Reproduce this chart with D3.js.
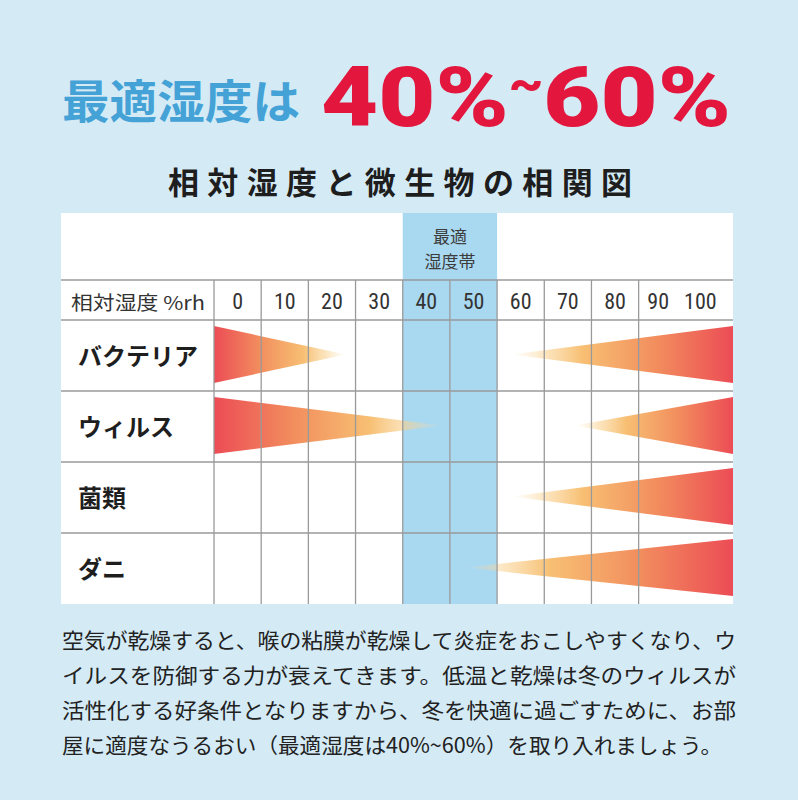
<!DOCTYPE html>
<html>
<head>
<meta charset="utf-8">
<script src="https://cdn.jsdelivr.net/npm/d3@7"></script>
<style>
  body { margin: 0; background: #d4ebf6; }
  svg { display: block; }
</style>
</head>
<body>
<script>
// データ
const humidityTicks = [0, 10, 20, 30, 40, 50, 60, 70, 80, 90, 100]
const organisms = ['バクテリア', 'ウィルス', '菌類', 'ダニ']
// 乾燥側のくさびが届く湿度 (null = なし)
const lowReach = [28, 48.5, null, null]
// 多湿側のくさびが始まる湿度
const highReach = [63, 76.5, 63, 53]
const optimalBand = [40, 60]
const noteLines = [
  '空気が乾燥すると、喉の粘膜が乾燥して炎症をおこしやすくなり、ウ',
  'イルスを防御する力が衰えてきます。低温と乾燥は冬のウィルスが',
  '活性化する好条件となりますから、冬を快適に過ごすために、お部',
  '屋に適度なうるおい（最適湿度は40%~60%）を取り入れましょう。'
]

const W = 798, H = 800
const jp = '"Noto Sans CJK JP", "Noto Sans", sans-serif'

let svg = d3.select('body')
    .append('svg')
    .attr('width', W)
    .attr('height', H)

svg.append('rect')
    .attr('width', W)
    .attr('height', H)
    .attr('fill', '#d4ebf6')

// タイトル
svg.append('text')
    .text('最適湿度は')
    .attr('x', 62)
    .attr('y', 118)
    .attr('font-family', jp)
    .attr('font-weight', 700)
    .attr('font-size', 46)
    .attr('textLength', 238)
    .attr('lengthAdjust', 'spacingAndGlyphs')
    .attr('fill', '#45a2d6')

let big = svg.append('text')
    .attr('x', 321)
    .attr('y', 126)
    .attr('font-family', 'Roboto, "Liberation Sans", sans-serif')
    .attr('font-weight', 900)
    .attr('font-size', 83)
    .attr('textLength', 410)
    .attr('lengthAdjust', 'spacingAndGlyphs')
    .attr('fill', '#e3173e')
big.append('tspan').text('40%')
big.append('tspan').text('~').attr('font-size', 46).attr('dy', -27)
big.append('tspan').text('60%').attr('dy', 27)

svg.append('text')
    .text('相対湿度と微生物の相関図')
    .attr('x', 168)
    .attr('y', 194)
    .attr('font-family', jp)
    .attr('font-weight', 700)
    .attr('font-size', 31)
    .attr('textLength', 464)
    .attr('lengthAdjust', 'spacing')
    .attr('fill', '#1e1e1e')

// 表の枠
const tableLeft = 61, tableRight = 733, tableTop = 213
const headerLine = 280, rowsTop = 320, tableBottom = 604
const gridLeft = 214

let x = d3.scaleLinear()
    .domain([0, 110])
    .range([gridLeft, tableRight])

let xBand = d3.scaleBand()
    .domain(humidityTicks)
    .range([gridLeft, tableRight])

let y = d3.scaleBand()
    .domain(organisms)
    .range([rowsTop, tableBottom])

let table = svg.append('g')

table.append('rect')
    .attr('x', tableLeft)
    .attr('y', tableTop)
    .attr('width', tableRight - tableLeft)
    .attr('height', tableBottom - tableTop)
    .attr('fill', '#ffffff')

table.append('rect')
    .attr('x', x(optimalBand[0]))
    .attr('y', tableTop)
    .attr('width', x(optimalBand[1]) - x(optimalBand[0]))
    .attr('height', tableBottom - tableTop)
    .attr('fill', '#a9d8f1')

// くさびのグラデーション
let defs = svg.append('defs')

function wedge(i, from, to, name) {
    let d = organisms[i]
    let top = y(d) + 6
    let bot = y(d) + y.bandwidth() - 8
    let mid = (top + bot) / 2
    let grad = defs.append('linearGradient')
        .attr('id', name)
        .attr('gradientUnits', 'userSpaceOnUse')
        .attr('x1', x(from)).attr('y1', 0)
        .attr('x2', x(to)).attr('y2', 0)
    let stops = [
        [0, '#ec4c55', 1],
        [0.35, '#f28e5e', 1],
        [0.68, '#f7bc6c', 0.95],
        [0.85, '#f9d08c', 0.55],
        [1, '#fbe0b0', 0]
    ]
    grad.selectAll('stop')
        .data(stops)
        .enter()
        .append('stop')
        .attr('offset', s => s[0])
        .attr('stop-color', s => s[1])
        .attr('stop-opacity', s => s[2])
    table.append('path')
        .attr('d', d3.line()([[x(from), top], [x(to), mid], [x(from), bot]]) + 'Z')
        .attr('fill', 'url(#' + name + ')')
}

organisms.forEach((d, i) => {
    if (lowReach[i] != null) wedge(i, 0, lowReach[i], 'low' + i)
    if (highReach[i] != null) wedge(i, 110, highReach[i], 'high' + i)
})

// 罫線
let hLines = [headerLine, rowsTop].concat(organisms.slice(1).map(d => y(d)))
table.selectAll('.hline')
    .data(hLines)
    .enter()
    .append('line')
    .attr('x1', tableLeft)
    .attr('x2', tableRight)
    .attr('y1', d => d)
    .attr('y2', d => d)
    .attr('stroke', '#9a9a9a')
    .attr('stroke-width', 1.3)

// 90 と 100 の間には線がない
let vTicks = humidityTicks.filter(v => v !== 100)
table.selectAll('.vline')
    .data(vTicks)
    .enter()
    .append('line')
    .attr('x1', d => x(d))
    .attr('x2', d => x(d))
    .attr('y1', headerLine)
    .attr('y2', tableBottom)
    .attr('stroke', '#9a9a9a')
    .attr('stroke-width', 1.3)

// 見出し
let bandMid = (x(optimalBand[0]) + x(optimalBand[1])) / 2
table.append('text')
    .text('最適')
    .attr('x', bandMid)
    .attr('y', 243)
    .attr('text-anchor', 'middle')
    .attr('font-family', jp)
    .attr('font-size', 17)
    .attr('fill', '#3c3c3c')

table.append('text')
    .text('湿度帯')
    .attr('x', bandMid)
    .attr('y', 268)
    .attr('text-anchor', 'middle')
    .attr('font-family', jp)
    .attr('font-size', 17)
    .attr('fill', '#3c3c3c')

table.append('text')
    .text('相対湿度 %rh')
    .attr('x', 71)
    .attr('y', 310)
    .attr('font-family', jp)
    .attr('font-size', 19)
    .attr('textLength', 134)
    .attr('lengthAdjust', 'spacingAndGlyphs')
    .attr('fill', '#333333')

table.selectAll('.tick')
    .data(humidityTicks)
    .enter()
    .append('text')
    .text(d => d)
    .attr('x', d => xBand(d) + xBand.bandwidth() / 2 - (d === 90 ? 4 : d === 100 ? 9 : 0))
    .attr('y', 309)
    .attr('text-anchor', 'middle')
    .attr('font-family', '"Liberation Sans Narrow", "Roboto Condensed", Roboto, sans-serif')
    .attr('font-size', 22)
    .attr('fill', '#333333')

table.selectAll('.rowlabel')
    .data(organisms)
    .enter()
    .append('text')
    .text(d => d)
    .attr('x', 78)
    .attr('y', d => y(d) + y.bandwidth() / 2 + 9)
    .attr('font-family', jp)
    .attr('font-weight', 700)
    .attr('font-size', 24)
    .attr('fill', '#1e1e1e')

// 説明文
svg.selectAll('.note')
    .data(noteLines)
    .enter()
    .append('text')
    .text(d => d)
    .attr('x', 62)
    .attr('y', (d, i) => 648 + i * 35)
    .attr('font-family', jp)
    .attr('font-size', 21)
    .attr('textLength', (d, i) => i === 3 ? 660 : 674)
    .attr('lengthAdjust', 'spacingAndGlyphs')
    .attr('fill', '#222222')
</script>
</body>
</html>
